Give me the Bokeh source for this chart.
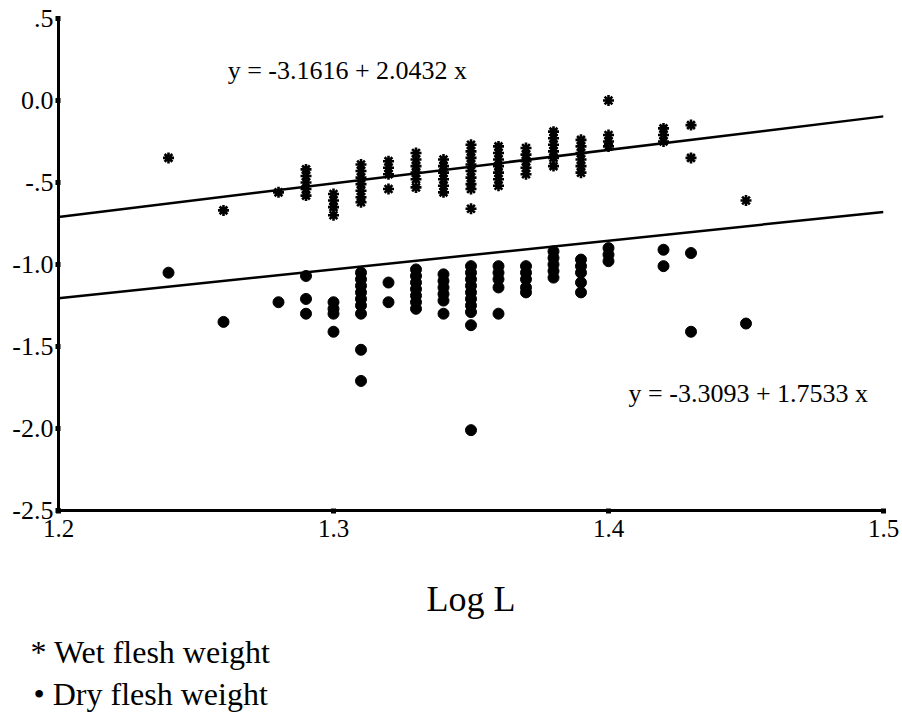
from bokeh.plotting import figure
from bokeh.models import Range1d, FixedTicker, Label, Title
from bokeh.embed import file_html
from bokeh.resources import INLINE
import numpy as np

# Log L levels and the log weights measured at each level
wet_levels = [1.24, 1.26, 1.28, 1.29, 1.30, 1.31, 1.32, 1.33, 1.34,
              1.35, 1.36, 1.37, 1.38, 1.39, 1.40, 1.42, 1.43, 1.45]
wet_values = [
    [-0.35],
    [-0.67],
    [-0.56],
    [-0.42, -0.46, -0.50, -0.54, -0.58],
    [-0.57, -0.61, -0.65, -0.70],
    [-0.39, -0.43, -0.47, -0.51, -0.55, -0.59, -0.62],
    [-0.37, -0.41, -0.45, -0.54],
    [-0.32, -0.36, -0.40, -0.44, -0.48, -0.53],
    [-0.36, -0.40, -0.44, -0.48, -0.52, -0.56],
    [-0.27, -0.31, -0.35, -0.39, -0.43, -0.47, -0.51, -0.54, -0.66],
    [-0.28, -0.32, -0.36, -0.40, -0.44, -0.48, -0.52],
    [-0.29, -0.33, -0.37, -0.41, -0.45],
    [-0.19, -0.23, -0.27, -0.31, -0.35, -0.40],
    [-0.24, -0.28, -0.32, -0.36, -0.40, -0.44],
    [0.0, -0.21, -0.25, -0.28],
    [-0.17, -0.21, -0.25],
    [-0.15, -0.35],
    [-0.61],
]

dry_levels = [1.24, 1.26, 1.28, 1.29, 1.30, 1.31, 1.32, 1.33, 1.34,
              1.35, 1.36, 1.37, 1.38, 1.39, 1.40, 1.42, 1.43, 1.45]
dry_values = [
    [-1.05],
    [-1.35],
    [-1.23],
    [-1.07, -1.21, -1.30],
    [-1.23, -1.27, -1.30, -1.41],
    [-1.05, -1.09, -1.13, -1.17, -1.21, -1.25, -1.30, -1.52, -1.71],
    [-1.11, -1.23],
    [-1.03, -1.07, -1.11, -1.15, -1.19, -1.23, -1.27],
    [-1.06, -1.10, -1.14, -1.18, -1.22, -1.30],
    [-1.01, -1.05, -1.09, -1.13, -1.17, -1.21, -1.25, -1.29, -1.37, -2.01],
    [-1.01, -1.05, -1.09, -1.14, -1.30],
    [-1.01, -1.05, -1.09, -1.14, -1.17],
    [-0.92, -0.96, -1.00, -1.04, -1.08],
    [-0.97, -1.01, -1.05, -1.11, -1.17],
    [-0.90, -0.94, -0.98],
    [-0.91, -1.01],
    [-0.93, -1.41],
    [-1.36],
]

# Regression coefficients (intercept, slope)
wet_fit = (-3.1616, 2.0432)
dry_fit = (-3.3093, 1.7533)

x_ticks = [1.2, 1.3, 1.4, 1.5]
x_tick_labels = ["1.2", "1.3", "1.4", "1.5"]
y_ticks = [0.5, 0.0, -0.5, -1.0, -1.5, -2.0, -2.5]
y_tick_labels = [".5", "0.0", "-.5", "-1.0", "-1.5", "-2.0", "-2.5"]

key_labels = ["* Wet flesh weight", "\u2022 Dry flesh weight"]


def flatten(levels, values):
    xs, ys = [], []
    for lv, vals in zip(levels, values):
        for v in vals:
            xs.append(lv)
            ys.append(v)
    return xs, ys


SERIF = "Liberation Serif"

p = figure(width=902, height=713, x_range=Range1d(1.2, 1.5), y_range=Range1d(-2.5, 0.5),
           output_backend="svg", toolbar_location=None,
           min_border_left=58, min_border_right=19, min_border_top=18, min_border_bottom=203)
p.background_fill_color = "white"
p.border_fill_color = "white"
p.outline_line_color = None
p.xgrid.visible = False
p.ygrid.visible = False

# fitted lines across the full x span
fit_x = np.array([1.2, 1.5])
for b0, b1 in (wet_fit, dry_fit):
    p.line(fit_x, b0 + b1 * fit_x, line_color="black", line_width=2.5)

wx, wy = flatten(wet_levels, wet_values)
dx, dy = flatten(dry_levels, dry_values)
p.scatter(wx, wy, marker="asterisk", size=11, line_color="black", line_width=2.6)
p.scatter(dx, dy, marker="circle", size=11, fill_color="black", line_color="black")

# axes
for ax in (p.xaxis[0], p.yaxis[0]):
    ax.axis_line_color = "black"
    ax.axis_line_width = 3
    ax.major_tick_line_color = "black"
    ax.major_tick_line_width = 5
    ax.major_tick_in = 2
    ax.major_tick_out = 3
    ax.minor_tick_line_color = None
    ax.major_label_text_font = SERIF
    ax.major_label_text_color = "black"

p.xaxis.ticker = FixedTicker(ticks=x_ticks)
p.xaxis.major_label_overrides = dict(zip(x_ticks, x_tick_labels))
p.xaxis.major_label_text_font_size = "25px"
p.xaxis.major_label_standoff = 6
p.xaxis.axis_label = "Log L"
p.xaxis.axis_label_text_font = SERIF
p.xaxis.axis_label_text_font_style = "normal"
p.xaxis.axis_label_text_font_size = "36px"
p.xaxis.axis_label_text_color = "black"
p.xaxis.axis_label_standoff = 39

p.yaxis.ticker = FixedTicker(ticks=y_ticks)
p.yaxis.major_label_overrides = dict(zip(y_ticks, y_tick_labels))
p.yaxis.major_label_text_font_size = "26px"
p.yaxis.major_label_standoff = 2

# key lines under the axis title
for i, txt in enumerate(key_labels):
    p.add_layout(Title(text=txt, align="left", offset=-28 if i == 0 else -25,
                       text_font=SERIF, text_font_size="32px", text_font_style="normal",
                       text_color="black", standoff=20 if i == 0 else -11), "below")


def add_text(x, y, text, size, align="left"):
    p.add_layout(Label(x=x, y=y, text=text, text_font=SERIF, text_font_size=size,
                       text_color="black", text_align=align, text_baseline="middle"))


# equation labels
add_text(1.2615, 0.183, "y = -3.1616 + 2.0432 x", "26px")
add_text(1.4073, -1.787, "y = -3.3093 + 1.7533 x", "26px")

open("out.html", "w").write(file_html(p, INLINE))
